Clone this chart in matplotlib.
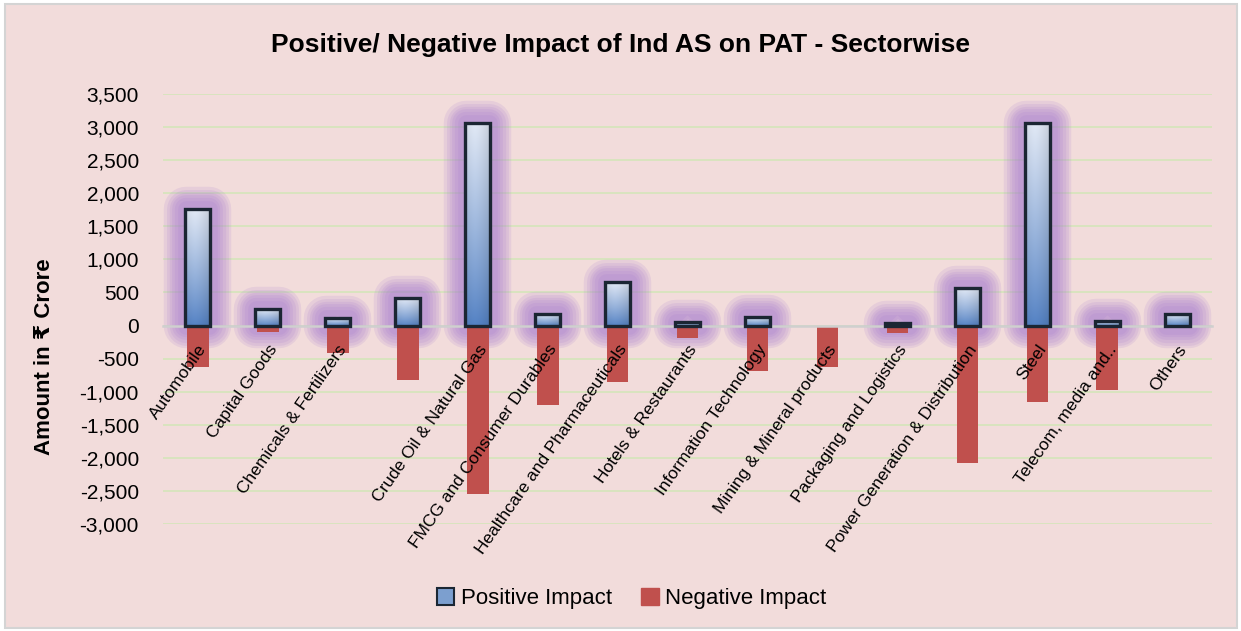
import numpy as np
import matplotlib
matplotlib.use('Agg')
import matplotlib.pyplot as plt
import matplotlib.patheffects as pe
from matplotlib import font_manager
from matplotlib.patches import Rectangle, Patch
from matplotlib.ticker import FuncFormatter

# data (Rs crore)
categories = ['Automobile', 'Capital Goods', 'Chemicals & Fertilizers', '',
              'Crude Oil & Natural Gas', 'FMCG and Consumer Durables',
              'Healthcare and Pharmaceuticals', 'Hotels & Restaurants',
              'Information Technology', 'Mining & Mineral products',
              'Packaging and Logistics', 'Power Generation & Distribution',
              'Steel', 'Telecom, media and..', 'Others']
positive = [1760, 255, 120, 410, 3055, 170, 655, 50, 135, 0, 35, 565, 3055, 70, 170]
negative = [-620, -105, -410, -830, -2540, -1195, -860, -195, -695, -620, -120, -2085, -1150, -980, 0]
yticks = list(range(-3000, 3501, 500))

# fonts: narrow Arial look-alike if present
names = {f.name for f in font_manager.fontManager.ttflist}
if 'Liberation Sans Narrow' in names:
    fam = ['Liberation Sans Narrow', 'DejaVu Sans']
    fs_tick, fs_cat, fs_title, fs_leg, fs_ylab = 18, 15, 21, 19, 18
else:
    fam = ['Liberation Sans', 'DejaVu Sans']
    fs_tick, fs_cat, fs_title, fs_leg, fs_ylab = 15, 12.5, 19, 16, 16
plt.rcParams['font.family'] = fam

pink = '#f2dcdb'
blue = '#5482c0'
red = '#c0504d'
edge = '#1b2633'
glow = '#a173cf'

fig = plt.figure(figsize=(12.41, 6.31), dpi=100, facecolor='white')
fig.patches.append(Rectangle((5 / 1241, 3 / 631), 1232 / 1241, 624 / 631,
                             transform=fig.transFigure, facecolor=pink,
                             edgecolor='#d4d4d4', linewidth=1.5, zorder=-5))
ax = fig.add_axes([0.131, 0.1696, 0.846, 0.6815])
ax.set_facecolor('none')

x = np.arange(len(categories))
w = 0.33
pos = np.array(positive, dtype=float)
neg = np.array(negative, dtype=float)
has_pos = pos > 0
has_neg = neg < 0

# soft purple glow behind the positive bars
gl = ax.bar(x[has_pos], pos[has_pos], width=w, color=glow, alpha=0.0, zorder=1)
for b in gl:
    b.set_path_effects([pe.Stroke(linewidth=lw, foreground=glow, alpha=0.14,
                                  joinstyle='round')
                        for lw in (32, 28, 24, 20, 16, 12)])

ax.bar(x[has_neg], neg[has_neg], width=w * 0.95, color=red, zorder=2)
pb = ax.bar(x[has_pos], pos[has_pos], width=w * 1.05, color=blue,
            linewidth=0, zorder=3)
ax.bar(x[has_pos], pos[has_pos], width=w * 1.05, facecolor='none',
       edgecolor=edge, linewidth=2.4, zorder=4)

# gradient fill clipped to each positive bar
gy = np.linspace(0, 1, 64)[:, None]
gx = np.linspace(0, 1, 32)[None, :]
light = np.array([0.88, 0.91, 0.96])
dark = np.array([0.33, 0.51, 0.77])
shade = 1 - 0.25 * np.abs(gx - 0.4) ** 1.5
for b in pb:
    x0, y0 = b.get_x(), b.get_y()
    bw, bh = b.get_width(), b.get_height()
    t = gy ** 0.9
    img = dark[None, None, :] * (1 - t[..., None]) + light[None, None, :] * t[..., None]
    img = np.clip(img * shade[..., None], 0, 1)
    im = ax.imshow(img, extent=[x0, x0 + bw, y0, y0 + bh], origin='lower',
                   aspect='auto', zorder=3.5, interpolation='bilinear')
    im.set_clip_path(b)

ax.set_xlim(-0.5, len(categories) - 0.5)
ax.set_ylim(-3000, 3500)
ax.set_yticks(yticks)
ax.yaxis.set_major_formatter(FuncFormatter(lambda v, p: f'{int(v):,}'))
ax.grid(axis='y', color='#d7e4bd', linewidth=1.3)
ax.set_axisbelow(True)
ax.xaxis.set_zorder(5)
for s in ['top', 'right', 'left']:
    ax.spines[s].set_visible(False)
ax.spines['bottom'].set_position(('data', 0))
ax.spines['bottom'].set_color('#cfcfcf')
ax.spines['bottom'].set_linewidth(1.8)
ax.spines['bottom'].set_zorder(3.2)
ax.tick_params(axis='y', length=0, pad=17, labelsize=fs_tick)
ax.tick_params(axis='x', length=0, pad=12)
ax.set_xticks(x)
ax.set_xticklabels(categories, rotation=55, ha='right', va='top',
                   rotation_mode='anchor', fontsize=fs_cat)

fig.text(0.5, 0.928, 'Positive/ Negative Impact of Ind AS on PAT - Sectorwise',
         ha='center', va='center', fontsize=fs_title, fontweight='bold')
fig.text(0.036, 0.434, 'Amount in \u20b9 Crore', rotation=90, ha='center',
         va='center', fontsize=fs_ylab, fontweight='bold')

handles = [Patch(facecolor='#7c9fcf', edgecolor=edge, linewidth=1.5, label='Positive Impact'),
           Patch(facecolor=red, edgecolor=red, label='Negative Impact')]
fig.legend(handles=handles, loc='center', bbox_to_anchor=(0.509, 0.052), ncol=2,
           frameon=False, fontsize=fs_leg, handlelength=0.8, handleheight=0.8,
           handletextpad=0.3, columnspacing=1.3)

fig.savefig('out.png', dpi=100, facecolor='white')
